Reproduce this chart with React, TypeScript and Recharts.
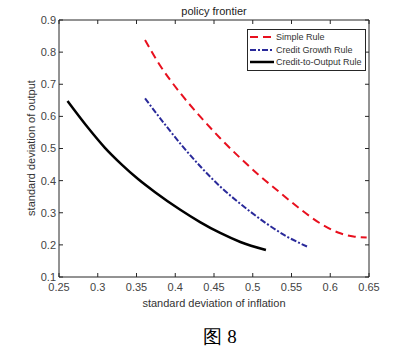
import { LineChart, Line, XAxis, YAxis } from 'recharts'

const simpleX = [0.361, 0.38, 0.406, 0.432, 0.458, 0.484, 0.509, 0.535, 0.561, 0.587, 0.613, 0.63, 0.647]
const simpleY = [0.838, 0.76, 0.674, 0.6, 0.532, 0.47, 0.415, 0.363, 0.312, 0.267, 0.236, 0.226, 0.223]

const growthX = [0.361, 0.387, 0.408, 0.434, 0.46, 0.486, 0.518, 0.544, 0.57]
const growthY = [0.656, 0.574, 0.511, 0.44, 0.377, 0.324, 0.266, 0.226, 0.195]

const ratioX = [0.261, 0.288, 0.309, 0.331, 0.352, 0.374, 0.406, 0.432, 0.458, 0.484, 0.517]
const ratioY = [0.648, 0.563, 0.503, 0.45, 0.405, 0.364, 0.31, 0.271, 0.237, 0.209, 0.184]

const xTicks = [0.25, 0.3, 0.35, 0.4, 0.45, 0.5, 0.55, 0.6, 0.65]
const yTicks = [0.1, 0.2, 0.3, 0.4, 0.5, 0.6, 0.7, 0.8, 0.9]

const series = [
  { name: 'Simple Rule', xs: simpleX, ys: simpleY, color: '#e8101e', dash: '8 5', width: 2 },
  { name: 'Credit Growth Rule', xs: growthX, ys: growthY, color: '#2a2a9a', dash: '6 2 2 2', width: 2 },
  { name: 'Credit-to-Output Rule', xs: ratioX, ys: ratioY, color: '#000000', dash: undefined, width: 2.5 },
]

const font = '"Liberation Sans", Arial, sans-serif'
const axisColor = '#262626'
const tickStyle = { fontSize: 11, fill: '#444', fontFamily: font }

function LegendBox() {
  return (
    <div
      style={{
        position: 'absolute',
        left: 247,
        top: 29,
        border: '1px solid #262626',
        background: '#fff',
        padding: '1px 3px 1px 2px',
        fontFamily: font,
        fontSize: 9,
        color: '#333',
      }}
    >
      {series.map((s) => (
        <div key={s.name} style={{ display: 'flex', alignItems: 'center', height: 12.5 }}>
          <svg width={24} height={6} style={{ marginRight: 2 }}>
            <line x1={0} y1={3} x2={24} y2={3} stroke={s.color} strokeWidth={s.width} strokeDasharray={s.dash} />
          </svg>
          <span>{s.name}</span>
        </div>
      ))}
    </div>
  )
}

export default function App() {
  return (
    <div style={{ position: 'absolute', left: 0, top: 0, width: 397, height: 360, background: '#fff' }}>
      <LineChart width={397} height={360} margin={{ top: 19, right: 27, bottom: 53, left: 0 }}>
        <XAxis
          type="number"
          dataKey="x"
          domain={[0.25, 0.65]}
          ticks={xTicks}
          allowDataOverflow
          height={30}
          tickSize={-4}
          tickMargin={10}
          stroke={axisColor}
          tick={tickStyle}
        />
        <XAxis
          xAxisId="top"
          orientation="top"
          type="number"
          dataKey="x"
          domain={[0.25, 0.65]}
          ticks={xTicks}
          allowDataOverflow
          height={1}
          tickSize={-4}
          tickFormatter={() => ''}
          stroke={axisColor}
        />
        <YAxis
          type="number"
          domain={[0.1, 0.9]}
          ticks={yTicks}
          allowDataOverflow
          width={59}
          tickSize={-4}
          tickMargin={7}
          stroke={axisColor}
          tick={tickStyle}
        />
        <YAxis
          yAxisId="right"
          orientation="right"
          type="number"
          domain={[0.1, 0.9]}
          ticks={yTicks}
          allowDataOverflow
          width={1}
          tickSize={-4}
          tickFormatter={() => ''}
          stroke={axisColor}
        />
        {series.map((s, i) => (
          <Line
            key={s.name}
            name={s.name}
            xAxisId={i === 0 ? 'top' : 0}
            yAxisId={i === 0 ? 'right' : 0}
            data={s.xs.map((x, j) => ({ x, y: s.ys[j] }))}
            dataKey="y"
            type="monotone"
            stroke={s.color}
            strokeWidth={s.width}
            strokeDasharray={s.dash}
            dot={false}
            activeDot={false}
            isAnimationActive={false}
          />
        ))}
      </LineChart>
      <LegendBox />
      <div style={{ position: 'absolute', left: 0, width: 428, top: 5, textAlign: 'center', fontFamily: font, fontSize: 11, color: '#222' }}>
        policy frontier
      </div>
      <div style={{ position: 'absolute', left: 0, width: 428, top: 297, textAlign: 'center', fontFamily: font, fontSize: 11, color: '#333' }}>
        standard deviation of inflation
      </div>
      <div
        style={{
          position: 'absolute',
          left: 31,
          top: 148,
          transform: 'translate(-50%, -50%) rotate(-90deg)',
          whiteSpace: 'nowrap',
          fontFamily: font,
          fontSize: 11,
          color: '#333',
        }}
      >
        standard deviation of output
      </div>
      <div style={{ position: 'absolute', left: 0, width: 440, top: 324, textAlign: 'center', fontFamily: 'serif', fontSize: 19, color: '#000' }}>
        图 8
      </div>
    </div>
  )
}
